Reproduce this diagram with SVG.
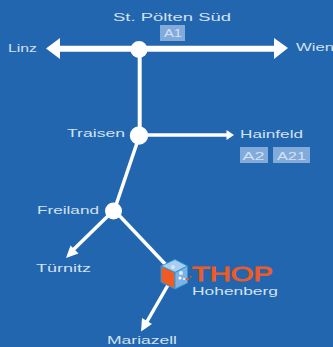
<svg xmlns="http://www.w3.org/2000/svg" width="333" height="347" viewBox="0 0 333 347">
<style>
.t{font-family:"Liberation Sans",Arial,sans-serif;font-size:11px;fill:#d3e1f1}
.b{fill:#82abdc}
.w{fill:#fff}
.l{stroke:#fff;fill:none}
</style>
<rect width="333" height="347" fill="#2166ae"/>
<g id="connectors">
<path class="l" stroke-width="6" d="M55 48.700H280"/>
<polygon class="w" points="46,48.500 60,38 60,59"/>
<polygon class="w" points="288,48 274,38 274,59"/>
<path class="l" stroke-width="4" d="M139.700 50V135"/>
<path class="l" stroke-width="3.500" d="M140 135H228"/>
<polygon class="w" points="234,135 226.500,130 226.500,140"/>
<path class="l" stroke-width="3.500" d="M137 143L114 211"/>
<path class="l" stroke-width="3.500" d="M113 211L70 253"/>
<polygon class="w" points="66,258 70.500,245.500 78.500,253.500"/>
<path class="l" stroke-width="3.500" d="M115 211L167 266"/>
<path class="l" stroke-width="3.500" d="M168 285L145 325"/>
<polygon class="w" points="141,331.500 142,318 152,324"/>
</g>
<g id="st-poelten"><circle class="w" cx="139" cy="49.500" r="8.500"/><text class="t" x="113" y="21" textLength="118" lengthAdjust="spacingAndGlyphs">St. Pölten Süd</text><rect class="b" x="160" y="25" width="25" height="16"/><text class="t" x="164" y="37" textLength="18" lengthAdjust="spacingAndGlyphs">A1</text></g>
<g id="linz"><text class="t" x="8" y="52" textLength="29" lengthAdjust="spacingAndGlyphs">Linz</text></g>
<g id="wien"><text class="t" x="296" y="51" textLength="38" lengthAdjust="spacingAndGlyphs">Wien</text></g>
<g id="traisen"><circle class="w" cx="139" cy="135.500" r="9.200"/><text class="t" x="67" y="137" textLength="58" lengthAdjust="spacingAndGlyphs">Traisen</text></g>
<g id="hainfeld"><text class="t" x="240" y="138" textLength="63" lengthAdjust="spacingAndGlyphs">Hainfeld</text><rect class="b" x="240" y="147" width="28" height="16"/><text class="t" x="242.500" y="159.500" textLength="22" lengthAdjust="spacingAndGlyphs">A2</text><rect class="b" x="273" y="147" width="37" height="16"/><text class="t" x="277" y="159.500" textLength="29" lengthAdjust="spacingAndGlyphs">A21</text></g>
<g id="freiland"><circle class="w" cx="113.500" cy="211" r="8.500"/><text class="t" x="37" y="214" textLength="62" lengthAdjust="spacingAndGlyphs">Freiland</text></g>
<g id="tuernitz"><text class="t" x="36" y="272" textLength="55" lengthAdjust="spacingAndGlyphs">Türnitz</text></g>
<g id="thop">
<polygon points="161,266 175,259.500 187.500,266 175,272.500" fill="#a9cdf0" stroke="#2b9ad8"/>
<polygon points="161,266 175,272.500 175,289 161,282" fill="#f15a22" stroke="#2b9ad8"/>
<polygon points="175,272.500 187.500,266 187.500,283 175,289" fill="#7fb2e2" stroke="#2b9ad8"/>
<circle cx="173" cy="267" r="2" fill="#d5e6f8"/><circle cx="181" cy="273" r="2" fill="#dcebfa"/><circle cx="180" cy="278" r="1.500" fill="#fff"/><circle cx="184" cy="279" r="1" fill="#fff"/>
<rect x="186" y="278" width="3" height="2" fill="#f15a22"/><rect x="190" y="276" width="1.500" height="1.500" fill="#f15a22"/>
<text x="192" y="281" font-family="'Liberation Sans',Arial,sans-serif" font-size="21" fill="#f15a22" stroke="#f15a22" stroke-width=".9" textLength="81" lengthAdjust="spacingAndGlyphs">THOP</text>
<text class="t" x="192" y="295" textLength="86" lengthAdjust="spacingAndGlyphs">Hohenberg</text>
</g>
<g id="mariazell"><text class="t" x="107" y="344" textLength="70" lengthAdjust="spacingAndGlyphs">Mariazell</text></g>
</svg>
